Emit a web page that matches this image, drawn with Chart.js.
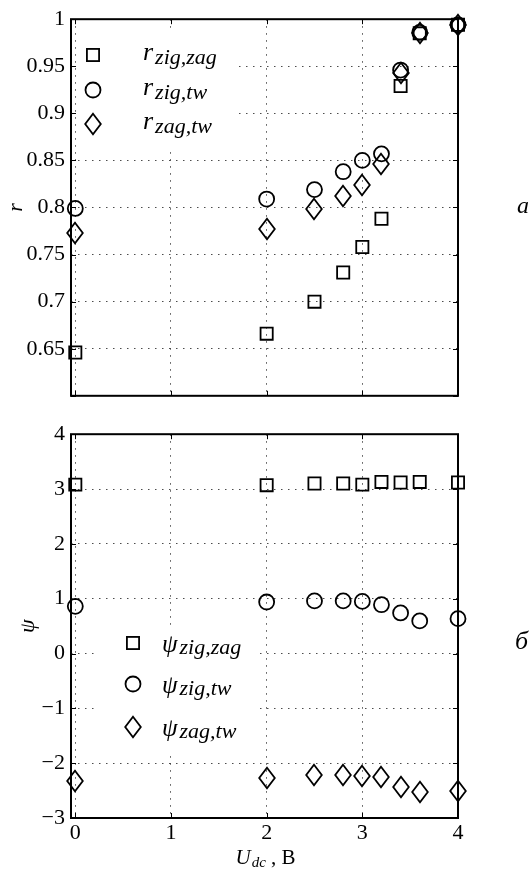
<!DOCTYPE html>
<html>
<head>
<meta charset="utf-8">
<title>r и ψ от U_dc</title>
<script src="https://cdn.jsdelivr.net/npm/chart.js@4.4.1/dist/chart.umd.min.js"></script>
<style>
  html, body { margin: 0; padding: 0; background: #fff; }
  #wrap { position: relative; width: 530px; height: 873px; overflow: hidden; }
  #wrap canvas { position: absolute; left: 0; }
  #rChart { top: 0; }
  #psiChart { top: 415px; }
</style>
</head>
<body>
<div id="wrap">
  <canvas id="rChart" width="530" height="415"></canvas>
  <canvas id="psiChart" width="530" height="458"></canvas>
</div>
<script>
// bias voltage U_dc, V (same points for every series)
const uDc = [0, 2, 2.5, 2.8, 3, 3.2, 3.4, 3.6, 4];

// panel а: correlation coefficients r
const rZigZag = [0.646, 0.666, 0.700, 0.731, 0.758, 0.788, 0.929, 0.985, 0.994];
const rZigTw  = [0.799, 0.809, 0.819, 0.838, 0.850, 0.857, 0.946, 0.986, 0.994];
const rZagTw  = [0.773, 0.777, 0.798, 0.812, 0.824, 0.846, 0.943, 0.985, 0.994];

// panel б: phase shifts psi
const psiZigZag = [3.08, 3.07, 3.10, 3.10, 3.08, 3.13, 3.12, 3.13, 3.12];
const psiZigTw  = [0.86, 0.94, 0.96, 0.96, 0.95, 0.89, 0.74, 0.595, 0.636];
const psiZagTw  = [-2.32, -2.27, -2.21, -2.21, -2.23, -2.25, -2.43, -2.53, -2.51];

// ticks
const xTicks = [0, 1, 2, 3, 4];
const rTicks = [0.6, 0.65, 0.7, 0.75, 0.8, 0.85, 0.9, 0.95, 1];
const rTickLabels = ['', '0.65', '0.7', '0.75', '0.8', '0.85', '0.9', '0.95', '1'];
const psiTicks = [-3, -2, -1, 0, 1, 2, 3, 4];
const psiTickLabels = ['\u22123', '\u22122', '\u22121', '0', '1', '2', '3', '4'];

// legend names: [symbol, subscript]
const rNames = [['r', 'zig,zag'], ['r', 'zig,tw'], ['r', 'zag,tw']];
const psiNames = [['\u03c8', 'zig,zag'], ['\u03c8', 'zig,tw'], ['\u03c8', 'zag,tw']];

const SERIF = '"Liberation Serif", "DejaVu Serif", serif';
Chart.defaults.font.family = SERIF;
Chart.defaults.color = '#000';

// matlab-like diamond is taller than wide, so build it as an image
function tallDiamond(hw, hh, lw) {
  const c = document.createElement('canvas');
  c.width = 2 * Math.ceil(hw + lw);
  c.height = 2 * Math.ceil(hh + lw);
  const g = c.getContext('2d');
  const cx = c.width / 2, cy = c.height / 2;
  g.lineWidth = lw;
  g.strokeStyle = '#000';
  g.lineJoin = 'miter';
  g.beginPath();
  g.moveTo(cx, cy - hh);
  g.lineTo(cx + hw, cy);
  g.lineTo(cx, cy + hh);
  g.lineTo(cx - hw, cy);
  g.closePath();
  g.stroke();
  return c;
}

const LW = 1.8;
const markers = [
  { style: 'rect', radius: 8.6 },
  { style: 'circle', radius: 7.5 },
  { style: tallDiamond(7.8, 10.2, LW), radius: 9 }
];

function makeSets(series) {
  return series.map((ys, i) => ({
    data: uDc.map((u, k) => ({ x: u, y: ys[k] })),
    showLine: false,
    clip: false,
    pointStyle: markers[i].style,
    pointRadius: markers[i].radius,
    pointBorderWidth: LW,
    borderColor: '#000',
    backgroundColor: 'rgba(0,0,0,0)'
  }));
}

const gridLines = { color: 'rgba(0,0,0,0.7)', lineWidth: 1, drawTicks: false };
const gridBorder = { display: false, dash: [1.5, 5.5] };

function xAxis(showLabels, height) {
  return {
    type: 'linear', min: -0.045, max: 4, bounds: 'data',
    afterBuildTicks: s => { s.ticks = xTicks.map(v => ({ value: v })); },
    afterFit: s => { s.height = height; },
    grid: gridLines,
    border: gridBorder,
    ticks: { display: showLabels, padding: 2, maxRotation: 0, autoSkip: false, font: { size: 22 } }
  };
}

function yAxis(ticks, labels, min, max, title, titlePad) {
  return {
    type: 'linear', min: min, max: max, bounds: 'data',
    afterBuildTicks: s => { s.ticks = ticks.map(v => ({ value: v })); },
    afterFit: s => { s.width = 71; },
    grid: gridLines,
    border: gridBorder,
    ticks: { padding: 6, autoSkip: false, font: { size: 22 }, callback: (v, i) => labels[i] },
    title: { display: true, text: title, font: { size: 22, style: 'italic' }, padding: { top: titlePad, bottom: 0 } }
  };
}

// box around the axes with inward ticks on all four sides
const framePlugin = {
  id: 'frame',
  beforeDraw(chart) {
    // keep the diamond images crisp at fractional positions
    chart.ctx.imageSmoothingEnabled = false;
  },
  beforeDatasetsDraw(chart) {
    const { ctx, chartArea: a } = chart;
    const x = chart.scales.x, y = chart.scales.y;
    ctx.save();
    ctx.strokeStyle = '#000';
    ctx.lineWidth = 1;
    ctx.beginPath();
    x.ticks.forEach(t => {
      const px = Math.round(x.getPixelForValue(t.value)) + 0.5;
      ctx.moveTo(px, a.bottom); ctx.lineTo(px, a.bottom - 5);
      ctx.moveTo(px, a.top); ctx.lineTo(px, a.top + 5);
    });
    y.ticks.forEach(t => {
      const py = Math.round(y.getPixelForValue(t.value)) + 0.5;
      ctx.moveTo(a.left, py); ctx.lineTo(a.left + 5, py);
      ctx.moveTo(a.right, py); ctx.lineTo(a.right - 5, py);
    });
    ctx.stroke();
    ctx.lineWidth = 2;
    ctx.strokeRect(a.left, a.top, a.right - a.left, a.bottom - a.top);
    ctx.restore();
  }
};

function drawMarker(ctx, style, r, x, y) {
  ctx.lineWidth = LW;
  ctx.strokeStyle = '#000';
  if (style === 'rect') {
    const s = r * Math.SQRT1_2;
    ctx.strokeRect(x - s, y - s, 2 * s, 2 * s);
  } else if (style === 'circle') {
    ctx.beginPath();
    ctx.arc(x, y, r, 0, 2 * Math.PI);
    ctx.stroke();
  } else {
    ctx.drawImage(style, x - style.width / 2, y - style.height / 2);
  }
}

function drawSub(ctx, main, sub, x, y, o) {
  ctx.fillStyle = '#000';
  ctx.textAlign = 'left';
  ctx.textBaseline = 'alphabetic';
  ctx.font = 'italic ' + o.mainSize + 'px ' + SERIF;
  ctx.fillText(main, x, y);
  const w = ctx.measureText(main).width;
  ctx.font = 'italic ' + o.subSize + 'px ' + SERIF;
  ctx.fillText(sub, x + w + o.gap, y + o.subShift);
}

// white legend box inside the axes, markers taken from the datasets
const mathLegend = {
  id: 'mathLegend',
  beforeDatasetsDraw(chart, args, o) {
    const ctx = chart.ctx;
    ctx.save();
    ctx.fillStyle = '#fff';
    ctx.fillRect(o.box[0], o.box[1], o.box[2], o.box[3]);
    chart.data.datasets.forEach((ds, i) => {
      const y = o.rowY[i];
      drawMarker(ctx, ds.pointStyle, ds.pointRadius, o.markerX, y);
      drawSub(ctx, o.names[i][0], o.names[i][1], o.textX, y + o.baseShift, o);
    });
    ctx.restore();
  }
};

// panel letter on the right and optional x title with subscript
const decor = {
  id: 'decor',
  afterDraw(chart, args, o) {
    const ctx = chart.ctx;
    ctx.save();
    ctx.fillStyle = '#000';
    ctx.textAlign = 'left';
    ctx.textBaseline = 'alphabetic';
    ctx.font = 'italic ' + o.tagSize + 'px ' + SERIF;
    ctx.fillText(o.tag, o.tagX, o.tagY);
    if (o.xTitle) {
      const a = chart.chartArea;
      const t = o.xTitle;
      ctx.font = 'italic 21px ' + SERIF;
      const w1 = ctx.measureText(t[0]).width;
      ctx.font = 'italic 15px ' + SERIF;
      const w2 = ctx.measureText(t[1]).width;
      ctx.font = '21px ' + SERIF;
      const w3 = ctx.measureText(t[2]).width;
      let x = (a.left + a.right) / 2 + 1 - (w1 + 1 + w2 + w3) / 2;
      const y = o.xTitleY;
      ctx.font = 'italic 21px ' + SERIF;
      ctx.fillText(t[0], x, y);
      x += w1 + 1;
      ctx.font = 'italic 15px ' + SERIF;
      ctx.fillText(t[1], x, y + 3);
      x += w2;
      ctx.font = '21px ' + SERIF;
      ctx.fillText(t[2], x, y);
    }
    ctx.restore();
  }
};

new Chart(document.getElementById('rChart'), {
  type: 'scatter',
  data: { datasets: makeSets([rZigZag, rZigTw, rZagTw]) },
  options: {
    responsive: false,
    animation: false,
    events: [],
    layout: { padding: { top: 14, right: 72, bottom: 12, left: 0 } },
    scales: {
      x: xAxis(false, 0),
      y: yAxis(rTicks, rTickLabels, 0.6, 1, 'r', 3)
    },
    plugins: {
      legend: { display: false },
      tooltip: { enabled: false },
      mathLegend: {
        box: [78, 30, 158, 118], markerX: 93, rowY: [55, 90, 124], textX: 143,
        names: rNames, baseShift: 5, mainSize: 26, subSize: 22, subShift: 3.5, gap: 2
      },
      decor: { tag: '\u0430', tagSize: 24, tagX: 517, tagY: 213 }
    }
  },
  plugins: [framePlugin, mathLegend, decor]
});

new Chart(document.getElementById('psiChart'), {
  type: 'scatter',
  data: { datasets: makeSets([psiZigZag, psiZigTw, psiZagTw]) },
  options: {
    responsive: false,
    animation: false,
    events: [],
    layout: { padding: { top: 14.5, right: 72, bottom: 0, left: 0 } },
    scales: {
      x: xAxis(true, 55),
      y: yAxis(psiTicks, psiTickLabels, -3, 4, '\u03c8', 15)
    },
    plugins: {
      legend: { display: false },
      tooltip: { enabled: false },
      mathLegend: {
        box: [95, 213, 161, 124], markerX: 133, rowY: [228, 269, 312], textX: 162,
        names: psiNames, baseShift: 9, mainSize: 25, subSize: 22, subShift: 2, gap: 2
      },
      decor: { tag: '\u0431', tagSize: 26, tagX: 515, tagY: 234, xTitle: ['U', 'dc', ' , \u0412'], xTitleY: 449 }
    }
  },
  plugins: [framePlugin, mathLegend, decor]
});
</script>
</body>
</html>
